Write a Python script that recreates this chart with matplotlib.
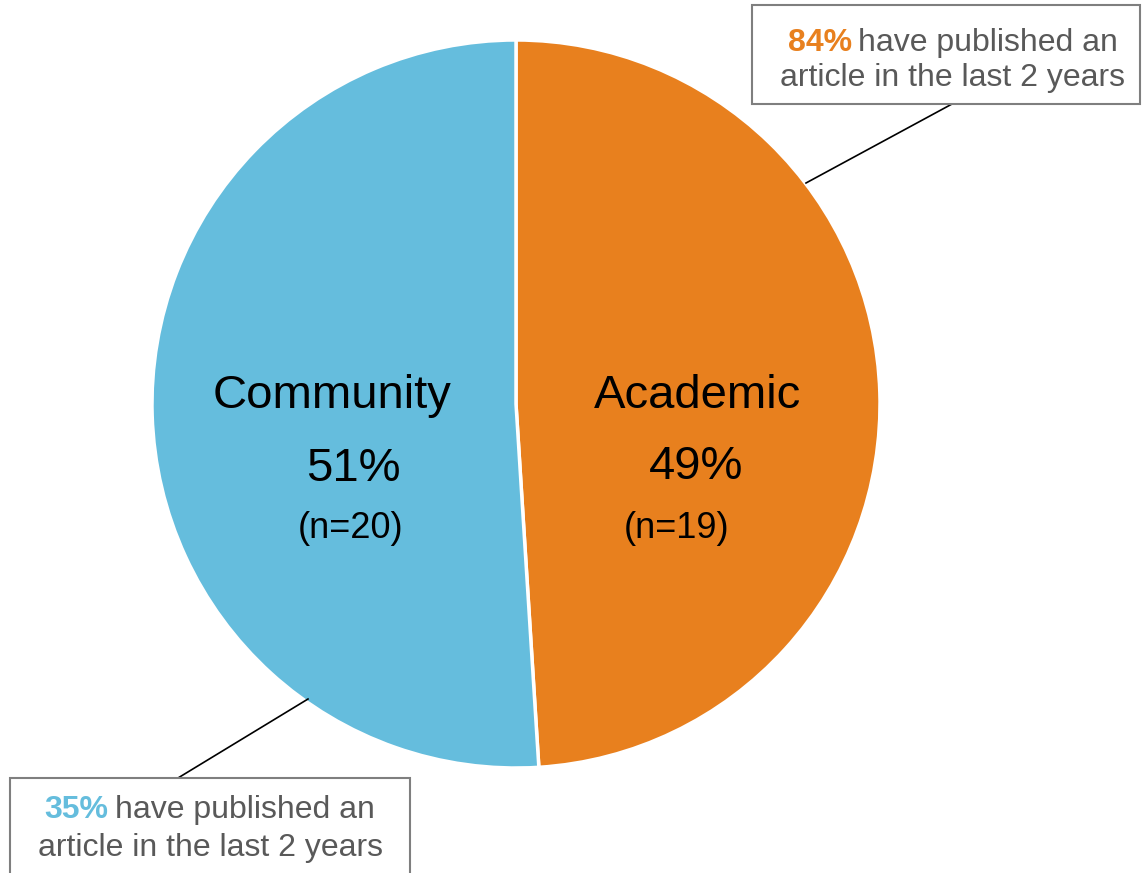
import matplotlib
matplotlib.use("Agg")
import matplotlib.pyplot as plt
from matplotlib.patches import Rectangle

plt.rcParams['font.family'] = ['Liberation Sans', 'DejaVu Sans']

categories = ["Academic", "Community"]
share_values = [49, 51]
shares = ["49%", "51%"]
n_labels = ["(n=19)", "(n=20)"]
published = ["84%", "35%"]
colors = ["#E8801E", "#65BDDD"]

W, H = 1142, 873
fig = plt.figure(figsize=(W / 100, H / 100), dpi=100)
ax = fig.add_axes([0, 0, 1, 1])

def Y(y):
    return H - y

cx, cy, r = 516, Y(404), 364
ax.pie(share_values, colors=colors, startangle=90, counterclock=False,
       center=(cx, cy), radius=r, frame=True,
       wedgeprops=dict(edgecolor='white', linewidth=2.5))
ax.set_xlim(0, W)
ax.set_ylim(0, H)
ax.set_aspect('equal')
ax.axis('off')

d = 3
# labels inside wedges
ax.text(698, Y(393 + d), categories[0], fontsize=34, ha='center', va='center', color='black')
ax.text(696, Y(464 + d), shares[0], fontsize=34, ha='center', va='center', color='black')
ax.text(677, Y(526 + d), n_labels[0], fontsize=26, ha='center', va='center', color='black')

ax.text(332, Y(393 + d), categories[1], fontsize=34, ha='center', va='center', color='black')
ax.text(353, Y(466 + d), shares[1], fontsize=34, ha='center', va='center', color='black')
ax.text(351, Y(526 + d), n_labels[1], fontsize=26, ha='center', va='center', color='black')

gray = "#595959"
# top callout
ax.plot([806, 952], [Y(183), Y(104)], color='black', lw=1.2)
ax.add_patch(Rectangle((752, Y(104)), 388, 99, facecolor='white', edgecolor='#7F7F7F', lw=1.5, zorder=3))
ax.text(852, Y(40 + d), published[0], fontsize=23, fontweight='bold', color=colors[0], ha='right', va='center', zorder=4)
ax.text(858, Y(40 + d), "have published an", fontsize=23, color=gray, ha='left', va='center', zorder=4)
ax.text(952, Y(75 + d), "article in the last 2 years", fontsize=23, color=gray, ha='center', va='center', zorder=4)

# bottom callout
ax.plot([308, 178], [Y(699), Y(778)], color='black', lw=1.2)
ax.add_patch(Rectangle((10, Y(900)), 400, 122, facecolor='white', edgecolor='#7F7F7F', lw=1.5, zorder=3))
ax.text(108, Y(807 + d), published[1], fontsize=23, fontweight='bold', color=colors[1], ha='right', va='center', zorder=4)
ax.text(115, Y(807 + d), "have published an", fontsize=23, color=gray, ha='left', va='center', zorder=4)
ax.text(210, Y(845 + d), "article in the last 2 years", fontsize=23, color=gray, ha='center', va='center', zorder=4)

fig.savefig("out.png", dpi=100)
